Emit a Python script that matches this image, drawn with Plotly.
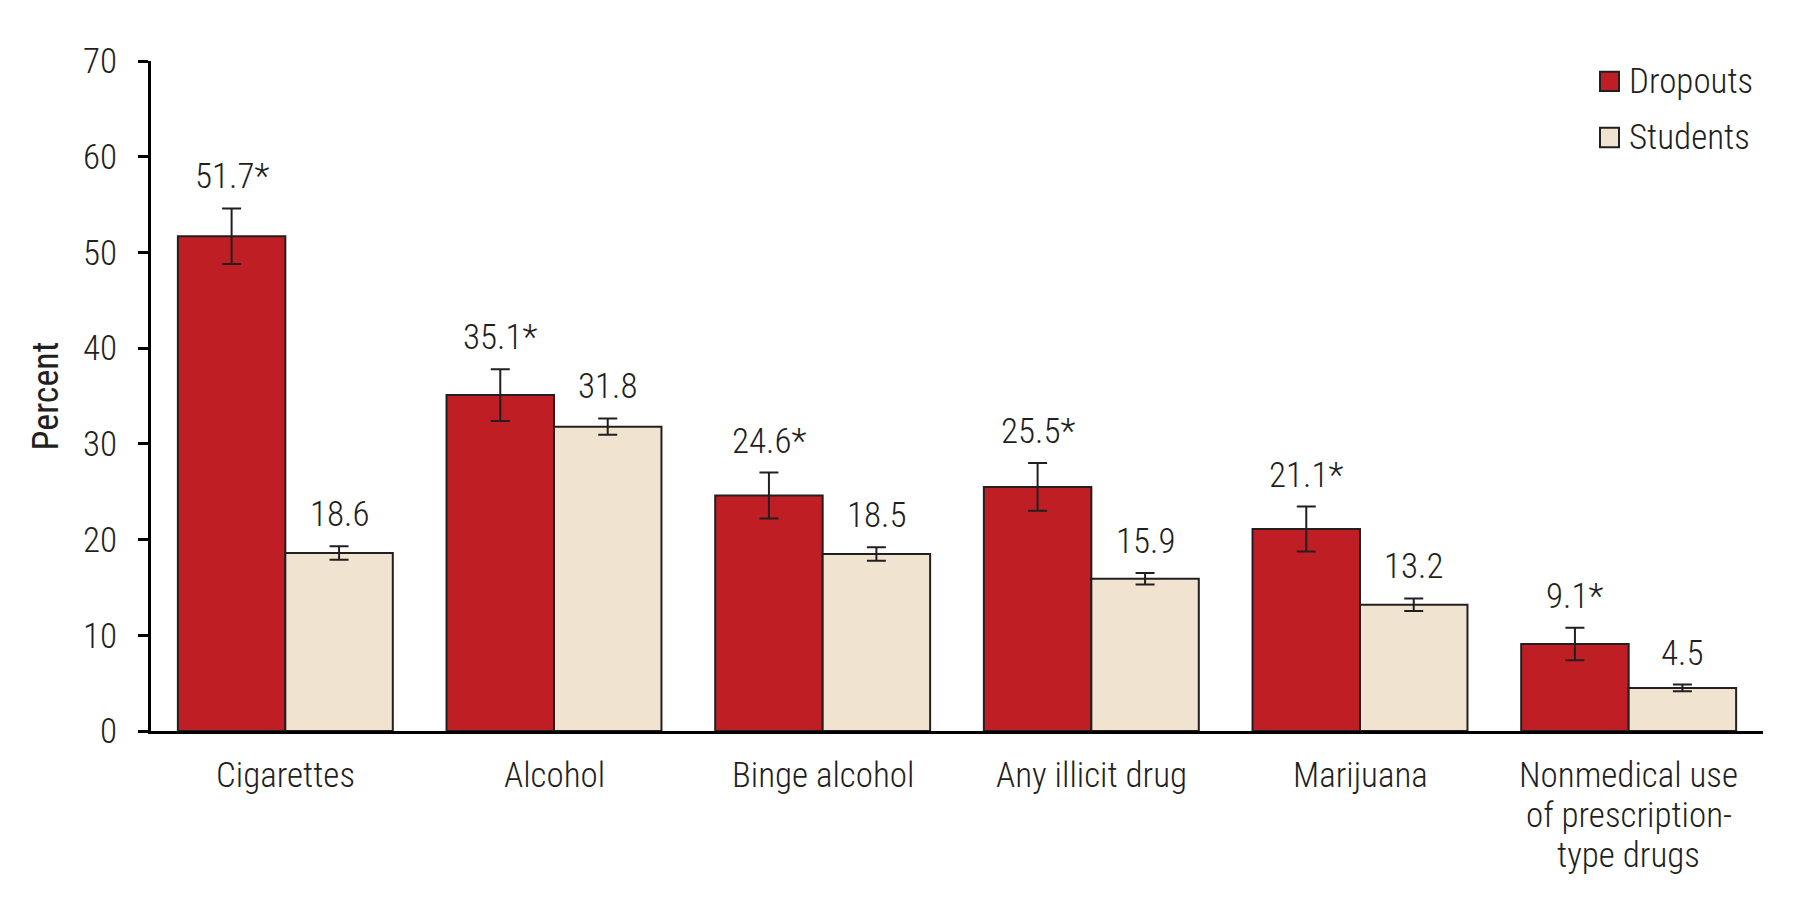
import plotly.graph_objects as go

categories = ["Cigarettes", "Alcohol", "Binge alcohol", "Any illicit drug", "Marijuana",
              "Nonmedical use<br>of prescription-<br>type drugs"]
dropouts = [51.7, 35.1, 24.6, 25.5, 21.1, 9.1]
dropouts_err = [2.9, 2.7, 2.4, 2.5, 2.35, 1.7]
dropouts_sig = [True, True, True, True, True, True]
students = [18.6, 31.8, 18.5, 15.9, 13.2, 4.5]
students_err = [0.7, 0.85, 0.7, 0.6, 0.65, 0.35]
students_sig = [False, False, False, False, False, False]
y_ticks = [0, 10, 20, 30, 40, 50, 60, 70]

FONT = "Roboto Condensed, Liberation Sans Narrow, Arial Narrow, sans-serif"
FSIZE = 35
FWEIGHT = 300
INK = "#231F20"
RED = "#BE1E24"
BEIGE = "#F0E4D0"

W, H = 1801, 900
ML, MR, MT, MB = 151, 38, 61, 169
plot_w = W - ML - MR
pitch = plot_w / len(categories)
bargap = 0.2
half_bar_px = (1 - bargap) / 2 * pitch / 2
LABEL_TOP = 22      # px below the x axis to the top of the first category line
LINE_STEP = 40      # px between category label lines


def font(size=FSIZE, weight=FWEIGHT):
    return dict(family=FONT, size=size, color=INK, weight=weight)


fig = go.Figure()
fig.add_trace(go.Bar(
    name="Dropouts", x=categories, y=dropouts,
    marker=dict(color=RED, line=dict(color=INK, width=2)),
    error_y=dict(type="data", array=dropouts_err, color=INK, thickness=2, width=9.5),
    showlegend=False,
))
fig.add_trace(go.Bar(
    name="Students", x=categories, y=students,
    marker=dict(color=BEIGE, line=dict(color=INK, width=2)),
    error_y=dict(type="data", array=students_err, color=INK, thickness=2, width=9.5),
    showlegend=False,
))

annotations = []
for vals, errs, sig, shift in ((dropouts, dropouts_err, dropouts_sig, -half_bar_px),
                               (students, students_err, students_sig, half_bar_px)):
    for c, v, e, s in zip(categories, vals, errs, sig):
        annotations.append(dict(
            x=c, y=v + e, xref="x", yref="y", text=f"{v:.1f}" + ("*" if s else ""),
            showarrow=False, xanchor="center", yanchor="bottom", xshift=shift, yshift=9,
            font=font(),
        ))

# category labels (one text line per annotation, to match the tighter line spacing)
for c in categories:
    for k, line in enumerate(c.split("<br>")):
        annotations.append(dict(
            x=c, y=0, xref="x", yref="y", text=line, showarrow=False,
            xanchor="center", yanchor="top", yshift=-(LABEL_TOP + k * LINE_STEP),
            font=font(),
        ))

# legend (custom, to match large square swatches)
legend_items = [("Dropouts", RED), ("Students", BEIGE)]
plot_h = H - MT - MB
shapes = []
for i, (name, col) in enumerate(legend_items):
    cy = 81.4 + i * 56.1
    y0 = (H - MB - (cy + 9.7)) / plot_h
    y1 = (H - MB - (cy - 9.7)) / plot_h
    x0 = (1600 - ML) / plot_w
    x1 = (1619 - ML) / plot_w
    shapes.append(dict(type="rect", xref="paper", yref="paper", x0=x0, x1=x1, y0=y0, y1=y1,
                       fillcolor=col, line=dict(color=INK, width=2)))
    annotations.append(dict(
        x=(1627 - ML) / plot_w, y=(H - MB - cy) / plot_h, xref="paper", yref="paper",
        text=name, showarrow=False, xanchor="left", yanchor="middle",
        font=font(),
    ))

fig.update_layout(
    width=W, height=H,
    margin=dict(l=ML, r=MR, t=MT, b=MB, autoexpand=False),
    paper_bgcolor="white", plot_bgcolor="white",
    barmode="group", bargap=bargap, bargroupgap=0,
    font=font(),
    annotations=annotations, shapes=shapes,
    xaxis=dict(
        type="category", range=[-0.5, len(categories) - 0.5],
        showline=True, linecolor="black", linewidth=3,
        ticks="", showgrid=False, zeroline=False,
        showticklabels=False,
    ),
    yaxis=dict(
        range=[0, 70], tickvals=y_ticks,
        showline=True, linecolor="black", linewidth=3,
        ticks="outside", ticklen=10, tickwidth=3, tickcolor="black",
        showgrid=False, zeroline=False,
        tickfont=font(),
        ticklabelstandoff=14,
        title=dict(text="Percent", font=font(36, 400), standoff=14),
    ),
)

fig.write_html(
    "out.html",
    config={"displayModeBar": False},
    post_script="document.body.style.margin='0';document.body.style.overflow='hidden';",
)
